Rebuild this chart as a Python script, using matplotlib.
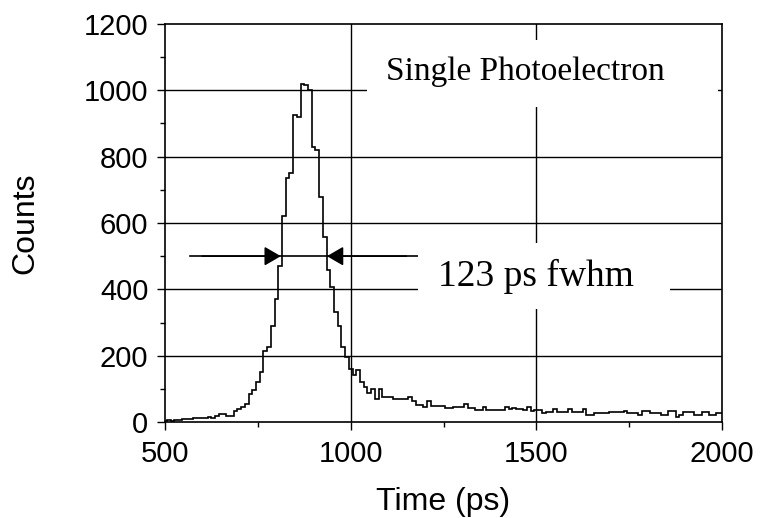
import numpy as np
import matplotlib
matplotlib.use('Agg')
from matplotlib import pyplot as plt
from matplotlib.patches import Rectangle
from matplotlib.ticker import MultipleLocator

# bin centres (ps), 10 ps wide
time_ps = np.arange(500, 2001, 10)

rise = [4, 5, 3, 6, 7, 8, 9, 10, 11, 12,
        13, 13, 14, 13, 18, 25, 25, 19, 19, 33,
        38, 45, 55, 85, 97, 122, 150, 215, 225, 290,
        371, 470, 620, 735, 750, 926, 921, 1020, 1015, 1000,
        828, 820, 679, 558, 457, 407, 331, 290, 227, 197]
tail = [159, 142, 156, 121, 106, 86, 101, 68, 101, 76,
        76, 76, 70, 70, 70, 70, 76, 62, 52, 52,
        45, 62, 49, 49, 49, 49, 41, 41, 45, 45,
        45, 55, 42, 42, 37, 37, 45, 37, 37, 37,
        37, 37, 45, 39, 42, 40, 40, 37, 45, 32,
        35, 35, 28, 30, 30, 40, 30, 30, 30, 40,
        30, 30, 30, 40, 22, 22, 28, 28, 28, 28,
        31, 31, 31, 31, 34, 28, 28, 28, 20, 34,
        34, 28, 28, 28, 20, 20, 34, 34, 15, 22,
        30, 30, 30, 22, 22, 30, 30, 20, 20, 28,
        28]
counts = np.array(rise + tail)

y_ticks = [0, 200, 400, 600, 800, 1000, 1200]
x_ticks = [500, 1000, 1500, 2000]
grid_y = [200, 400, 600, 800, 1000]
grid_x = [1000, 1500]

fwhm_left, fwhm_right, half_max = 812, 936, 500

sans = 'Liberation Sans'
serif = 'Liberation Serif'

fig = plt.figure(figsize=(7.61, 5.18), dpi=100)
ax = fig.add_axes([0.2168, 0.1853, 0.732, 0.7684])

for gy in grid_y:
    ax.axhline(gy, color='black', lw=1.0, zorder=1)
for gx in grid_x:
    ax.axvline(gx, color='black', lw=1.0, zorder=1)

edges = np.append(time_ps - 5, time_ps[-1] + 5)
ax.stairs(counts, edges, baseline=None, color='black', lw=1.2, zorder=2)

# arrows marking the fwhm
ax.plot([567, 1185], [half_max, half_max], color='black', lw=1.2, zorder=2)
head = dict(arrowstyle='-|>,head_length=0.5,head_width=0.29', mutation_scale=20,
            color='black', lw=1.2, shrinkA=0, shrinkB=0)
ax.annotate('', xy=(fwhm_left, half_max), xytext=(600, half_max), arrowprops=head, zorder=3)
ax.annotate('', xy=(fwhm_right, half_max), xytext=(1150, half_max), arrowprops=head, zorder=3)

# white patches behind the labels cut the grid
ax.add_patch(Rectangle((1044, 950), 945, 202, facecolor='white', edgecolor='none', zorder=4))
ax.add_patch(Rectangle((1181, 341), 679, 199, facecolor='white', edgecolor='none', zorder=4))
ax.text(1470, 1055, 'Single Photoelectron', family=serif, fontsize=24,
        ha='center', va='center', zorder=5)
ax.text(1235, 440, '123 ps fwhm', family=serif, fontsize=27,
        ha='left', va='center', zorder=5)

ax.set_xlim(500, 2000)
ax.set_ylim(0, 1200)
ax.set_xticks(x_ticks)
ax.set_yticks(y_ticks)
ax.xaxis.set_minor_locator(MultipleLocator(250))
ax.yaxis.set_minor_locator(MultipleLocator(100))
ax.tick_params(which='major', direction='out', length=6, width=1.0, labelsize=21)
ax.tick_params(axis='y', which='major', pad=6)
ax.tick_params(axis='x', which='major', pad=7)
ax.tick_params(which='minor', direction='out', length=3.5, width=1.0)
for lab in ax.get_xticklabels() + ax.get_yticklabels():
    lab.set_family(sans)
for sp in ax.spines.values():
    sp.set_linewidth(1.2)
    sp.set_zorder(6)

ax.set_xlabel('Time (ps)', family=sans, fontsize=23, va='center')
ax.set_ylabel('Counts', family=sans, fontsize=23, va='center')
ax.xaxis.set_label_coords(0.5, -0.201)
ax.yaxis.set_label_coords(-0.25, 0.5)

plt.savefig('out.png', dpi=100)
